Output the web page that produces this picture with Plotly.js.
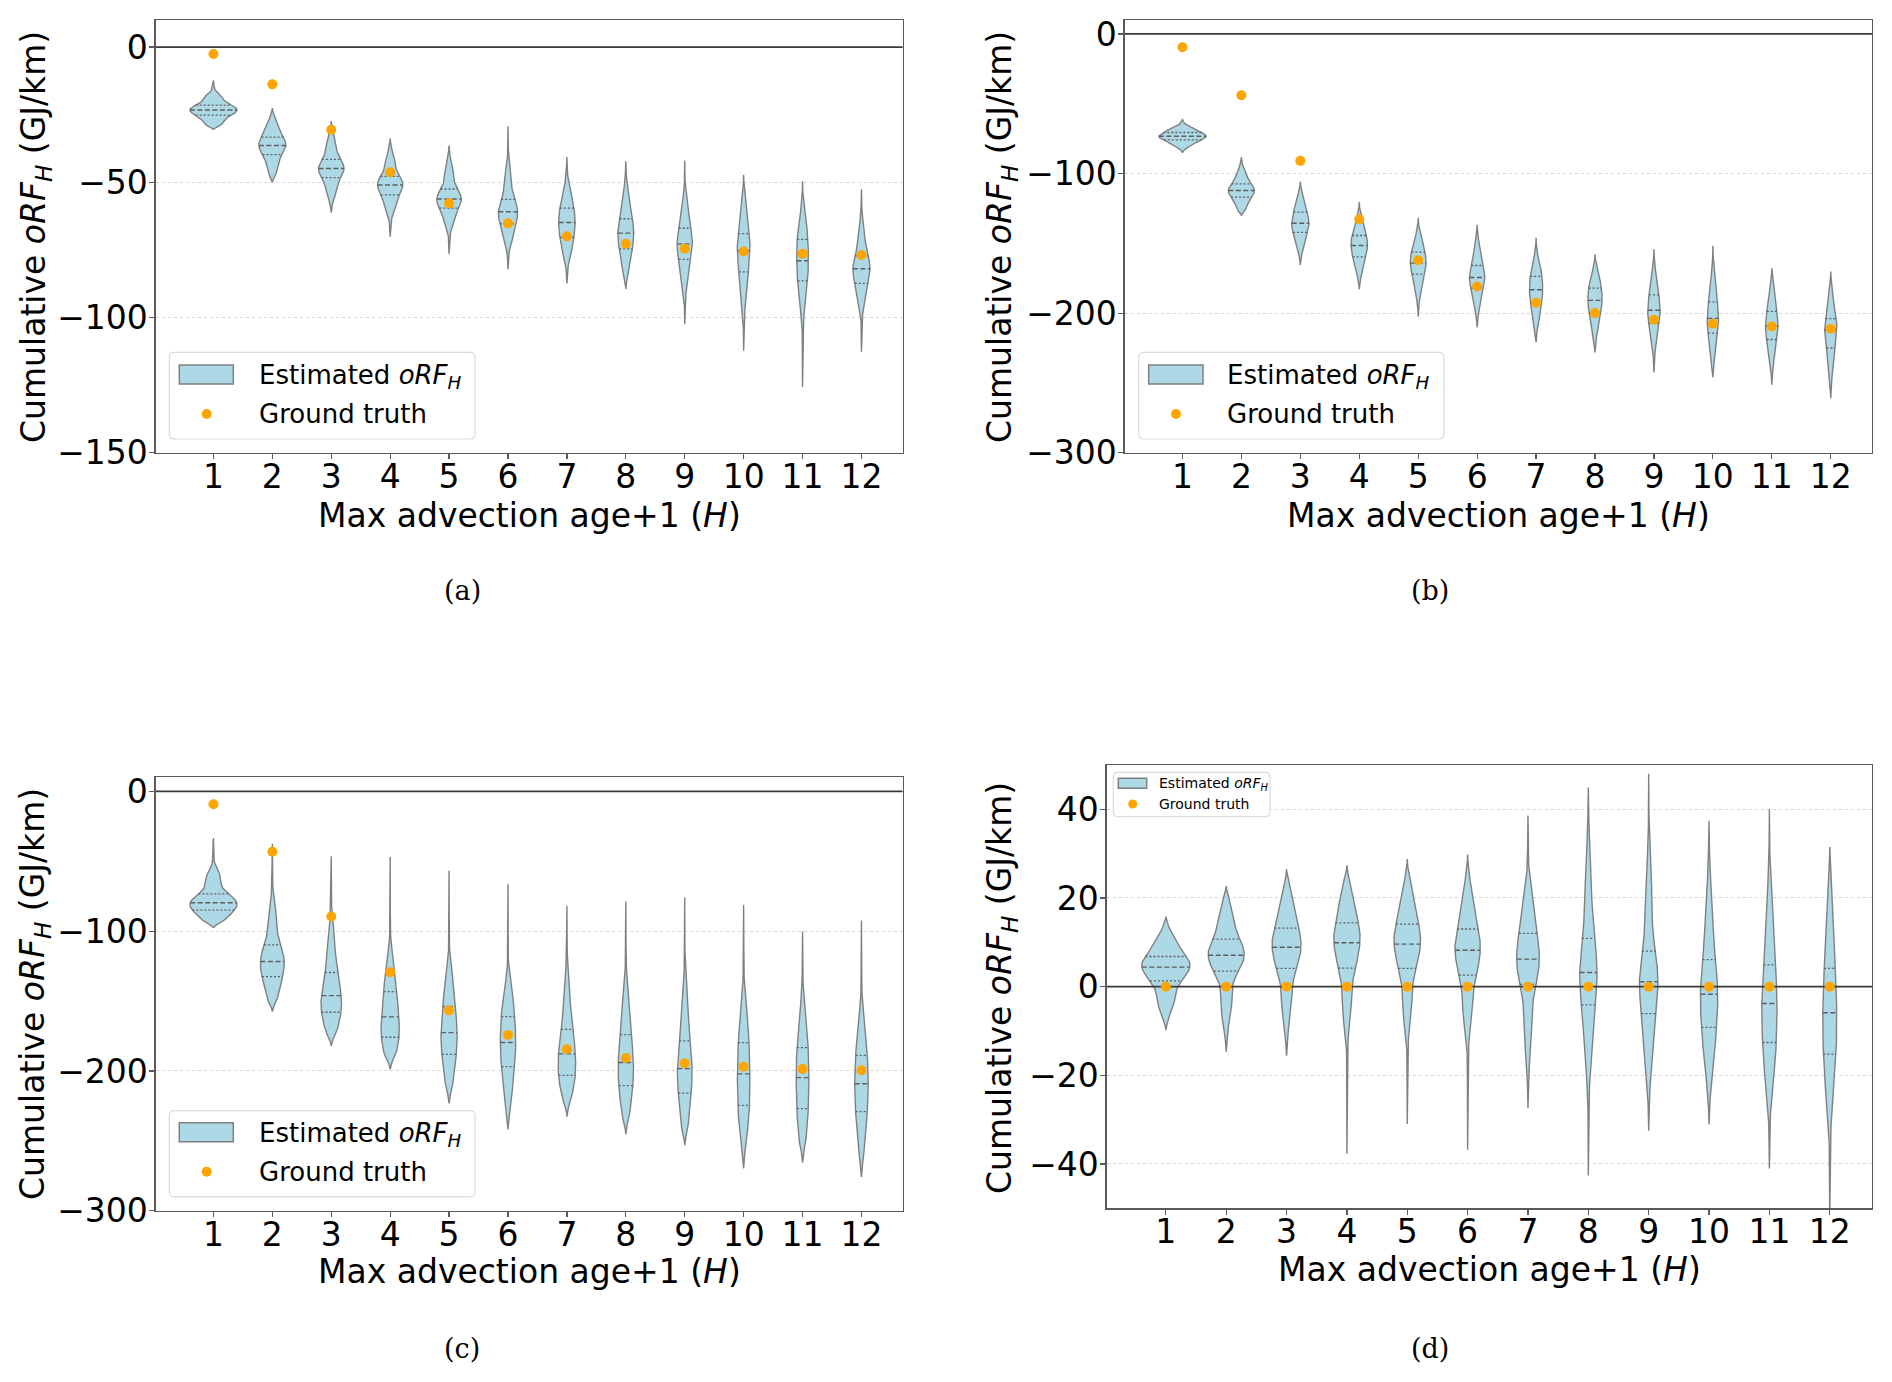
<!DOCTYPE html>
<html><head><meta charset="utf-8">
<script src="https://cdn.plot.ly/plotly-3.0.1.min.js"></script>
<style>html,body{margin:0;padding:0;background:#fff}</style>
</head><body><div id="chart" style="width:1892px;height:1382px"></div>
<script>
// ---------- data ----------
const H = [1,2,3,4,5,6,7,8,9,10,11,12];
const tickLabels = ['1','2','3','4','5','6','7','8','9','10','11','12'];

// panel (a)
const aHi     = [-12.3,-22.6,-27.4,-33.8,-36.4,-29.3,-40.7,-42.2,-42.0,-47.2,-49.6,-52.6];
const aBodyHi = [-17.3,-27.2,-33.3,-39.5,-43.2,-44.4,-51.9,-53.1,-56.8,-58.0,-63.0,-65.4];
const aQ3     = [-21.5,-33.3,-41.5,-47.8,-52.5,-56.3,-59.6,-63.5,-67.0,-69.0,-71.1,-77.2];
const aMed    = [-23.3,-36.4,-44.9,-51.0,-56.2,-60.9,-64.9,-68.8,-72.8,-75.3,-79.0,-82.0];
const aQ1     = [-25.2,-39.8,-48.3,-54.7,-59.6,-65.4,-70.4,-74.6,-78.5,-83.1,-86.5,-87.4];
const aBodyLo = [-29.0,-46.9,-55.6,-61.7,-66.7,-72.8,-77.8,-82.7,-88.9,-95.1,-97.5,-96.3];
const aLo     = [-30.5,-50.0,-61.2,-70.1,-76.5,-82.2,-87.4,-89.5,-102.5,-112.3,-125.7,-112.7];
const aTruth  = [-2.6,-13.8,-30.6,-46.3,-57.8,-65.2,-70.0,-72.7,-74.6,-75.6,-76.4,-76.9];

// panel (b)
const bHi     = [-60.9,-88.3,-105.7,-120.5,-131.7,-136.8,-146.1,-157.8,-154.2,-151.8,-167.8,-170.2];
const bBodyHi = [-66.3,-97.4,-116.5,-133.2,-145.1,-149.9,-161.8,-171.4,-171.4,-173.7,-183.3,-185.7];
const bQ3     = [-70.6,-107.4,-127.7,-144.4,-156.3,-165.9,-173.7,-182.1,-186.9,-191.9,-198.8,-204.0];
const bMed    = [-73.3,-112.2,-135.6,-151.6,-164.2,-174.5,-183.3,-190.9,-197.9,-203.8,-209.5,-212.0];
const bQ1     = [-75.9,-116.9,-142.2,-159.7,-172.1,-182.1,-192.8,-200.0,-207.2,-214.3,-218.9,-225.0];
const bBodyLo = [-80.7,-126.0,-154.7,-171.4,-188.1,-197.6,-207.2,-214.3,-223.9,-231.0,-235.8,-243.0];
const bLo     = [-85.0,-130.1,-165.4,-182.8,-202.4,-210.3,-220.8,-228.2,-242.5,-246.1,-251.3,-260.9];
const bTruth  = [-9.5,-43.9,-90.9,-132.7,-162.1,-180.9,-192.6,-200.0,-204.8,-207.6,-209.5,-211.2];

// panel (c)
const cHi     = [-33.4,-37.5,-46.5,-47.0,-56.8,-66.1,-81.9,-78.8,-75.9,-81.4,-100.2,-92.4];
const cBodyHi = [-56.1,-80.0,-96.7,-118.1,-127.7,-139.6,-132.5,-139.6,-142.0,-151.6,-156.3,-161.1];
const cQ3     = [-73.3,-109.8,-129.6,-143.2,-153.9,-161.1,-170.2,-174.0,-178.5,-179.7,-183.3,-188.8];
const cMed    = [-79.7,-121.7,-146.1,-161.3,-172.6,-179.7,-187.8,-194.0,-198.3,-202.1,-204.8,-209.1];
const cQ1     = [-85.0,-132.5,-158.0,-175.9,-188.1,-196.9,-203.1,-210.5,-215.8,-224.6,-227.0,-229.1];
const cBodyLo = [-93.1,-149.2,-173.0,-189.7,-211.2,-223.2,-218.4,-232.7,-242.2,-247.0,-251.8,-256.6];
const cLo     = [-97.6,-157.5,-182.1,-198.8,-223.2,-241.8,-232.7,-245.3,-253.0,-269.7,-265.6,-275.7];
const cTruth  = [-9.3,-43.2,-89.5,-129.4,-156.8,-174.2,-184.5,-190.7,-194.5,-196.9,-198.6,-199.5];

// panel (d)
const dHi     = [15.8,22.7,26.5,27.4,28.8,29.8,38.6,44.9,48.0,37.4,40.0,31.5];
const dBodyHi = [11.7,18.4,20.7,22.2,22.2,22.2,22.2,29.7,27.4,22.2,20.7,19.2];
const dQ3     = [6.8,10.7,13.2,14.4,14.1,13.0,12.0,10.9,8.0,6.1,4.9,4.1];
const dMed    = [4.4,7.1,8.9,9.9,9.6,8.2,6.2,3.2,1.1,-1.7,-3.8,-5.9];
const dQ1     = [1.3,3.5,4.1,4.2,4.1,2.6,0.5,-4.1,-6.1,-9.2,-12.6,-15.2];
const dBodyLo = [-5.6,-7.9,-7.9,-9.4,-9.4,-10.2,-15.4,-19.2,-19.2,-19.9,-22.9,-26.7];
const dLo     = [-9.8,-14.7,-15.6,-37.7,-31.0,-36.8,-27.4,-42.6,-32.5,-31.1,-41.0,-52.0];
const dTruth  = [0,0,0,0,0,0,0,0,0,0,0,0];

// ---------- drawing helpers ----------
const W = 1892, HT = 1382;
const PX = x => x / W;
const PY = y => 1 - y / HT;
const FILL = '#add8e6', EDGE = 'rgb(128,128,128)', QCOL = 'rgb(95,95,95)';
const ORANGE = '#FFA500';
const XRANGE = [0.02, 12.7];

function erf(x) {
  const s = x < 0 ? -1 : 1; x = Math.abs(x);
  const t = 1 / (1 + 0.3275911 * x);
  const y = 1 - (((((1.061405429 * t - 1.453152027) * t) + 1.421413741) * t - 0.284496736) * t + 0.254829592) * t * Math.exp(-x * x);
  return s * y;
}
const Phi = z => 0.5 * (1 + erf(z / Math.SQRT2));
const TAIL = 0.02;

function makeProfile(lo, bl, q1, md, q3, bh, hi) {
  const knots = [lo, bl, q1, md, q3, bh, hi];
  const mass = [TAIL, 0.25 - TAIL, 0.25, 0.25, 0.25 - TAIL, TAIL];
  const sig = 0.3 * (q3 - q1);
  const dens = y => {
    let f = 0;
    for (let i = 0; i < 6; i++) {
      const a = knots[i], b = knots[i + 1];
      if (b <= a) continue;
      f += mass[i] / (b - a) * (Phi((b - y) / sig) - Phi((a - y) / sig));
    }
    const w = Math.min(1, (y - lo) / sig, (hi - y) / sig);
    return f * Math.max(0, w);
  };
  const N = 220, ys = [], ds = [];
  for (let k = 0; k <= N; k++) { const y = lo + (hi - lo) * k / N; ys.push(y); ds.push(dens(y)); }
  return { ys, ds, dens };
}

function panelTraces(xa, ya, lo, bl, q1, md, q3, bh, hi, truth) {
  const traces = [];
  const profs = H.map((h, i) => makeProfile(lo[i], bl[i], q1[i], md[i], q3[i], bh[i], hi[i]));
  let maxD = 0;
  profs.forEach(p => p.ds.forEach(d => { if (d > maxD) maxD = d; }));
  const sc = 0.4 / maxD;
  const qx = [], qy = [], mx = [], my = [];
  profs.forEach((p, i) => {
    const pos = H[i];
    const xs = [], ys = [];
    p.ys.forEach((y, k) => { xs.push(pos + p.ds[k] * sc); ys.push(y); });
    for (let k = p.ys.length - 1; k >= 0; k--) { xs.push(pos - p.ds[k] * sc); ys.push(p.ys[k]); }
    traces.push({type:'scatter', mode:'lines', x:xs, y:ys, xaxis:xa, yaxis:ya, fill:'toself',
      fillcolor:FILL, line:{color:EDGE, width:1.4}, showlegend:false, hoverinfo:'skip'});
    [q1[i], q3[i]].forEach(q => { const w = p.dens(q) * sc; qx.push(pos - w, pos + w, null); qy.push(q, q, null); });
    const wm = p.dens(md[i]) * sc; mx.push(pos - wm, pos + wm, null); my.push(md[i], md[i], null);
  });
  traces.push({type:'scatter', mode:'lines', x:qx, y:qy, xaxis:xa, yaxis:ya,
    line:{color:QCOL, width:1.3, dash:'2px,2px'}, showlegend:false, hoverinfo:'skip'});
  traces.push({type:'scatter', mode:'lines', x:mx, y:my, xaxis:xa, yaxis:ya,
    line:{color:QCOL, width:1.4, dash:'5px,2.5px'}, showlegend:false, hoverinfo:'skip'});
  // horizontal reference line at zero
  traces.push({type:'scatter', mode:'lines', x:XRANGE, y:[0,0], xaxis:xa, yaxis:ya,
    line:{color:'#3a3a3a', width:1.7}, showlegend:false, hoverinfo:'skip'});
  traces.push({type:'scatter', mode:'markers', x:H, y:truth, xaxis:xa, yaxis:ya,
    marker:{color:ORANGE, size:10, line:{width:0}}, showlegend:false, cliponaxis:false});
  return traces;
}

const data = [].concat(
  panelTraces('x','y', aLo, aBodyLo, aQ1, aMed, aQ3, aBodyHi, aHi, aTruth),
  panelTraces('x2','y2', bLo, bBodyLo, bQ1, bMed, bQ3, bBodyHi, bHi, bTruth),
  panelTraces('x3','y3', cLo, cBodyLo, cQ1, cMed, cQ3, cBodyHi, cHi, cTruth),
  panelTraces('x4','y4', dLo, dBodyLo, dQ1, dMed, dQ3, dBodyHi, dHi, dTruth)
);

const FONT = 'DejaVu Sans, Liberation Sans, sans-serif';
const FRAME = '#5a5a5a';
function xAxis(x0, x1, anchor) {
  return {domain:[PX(x0), PX(x1)], anchor, range:XRANGE, tickmode:'array', tickvals:H, ticktext:tickLabels,
    showgrid:false, zeroline:false, showline:true, mirror:true, linecolor:FRAME, linewidth:1.3,
    ticks:'outside', ticklen:5, tickwidth:1.2, tickcolor:FRAME, ticklabelstandoff:-11,
    tickfont:{family:FONT, size:33, color:'#000'}, fixedrange:true};
}
function yAxis(y0, y1, anchor, range, dtick) {
  return {domain:[PY(y1), PY(y0)], anchor, range, dtick, tick0:0,
    showgrid:true, gridcolor:'#d6d6d6', gridwidth:1, griddash:'3px,3px',
    zeroline:false, showline:true, mirror:true, linecolor:FRAME, linewidth:1.3,
    ticks:'outside', ticklen:5, tickwidth:1.2, tickcolor:FRAME, ticklabelstandoff:-5,
    tickfont:{family:FONT, size:33, color:'#000'}, fixedrange:true};
}

const YT = 'Cumulative <i>oRF</i><sub><i>H</i></sub> (GJ/km)';
const XT = 'Max advection age+1 (<i>H</i>)';
const LEG1 = 'Estimated <i>oRF</i><sub><i>H</i></sub>';
const LEG2 = 'Ground truth';

const annotations = [];
const shapes = [];
function ann(text, x, y, size, opts) {
  annotations.push(Object.assign({text, x:PX(x), y:PY(y), xref:'paper', yref:'paper', showarrow:false,
    xanchor:'center', yanchor:'middle', font:{family:FONT, size, color:'#000'}}, opts || {}));
}
// axis titles
ann(YT, 35, 237, 33, {textangle:-90});
ann(YT, 1001, 237, 33, {textangle:-90});
ann(YT, 35, 994, 33, {textangle:-90});
ann(YT, 1001, 988, 33, {textangle:-90});
ann(XT, 529, 515, 33);
ann(XT, 1498, 515, 33);
ann(XT, 529, 1271, 33);
ann(XT, 1489, 1269, 33);
// captions
const SERIF = 'DejaVu Serif, Liberation Serif, serif';
const capFont = {family:SERIF, size:27, color:'#000'};
ann('(a)', 462, 590, 27, {font:capFont});
ann('(b)', 1430, 590, 27, {font:capFont});
ann('(c)', 462, 1348, 27, {font:capFont});
ann('(d)', 1430, 1348, 27, {font:capFont});

// legends (drawn per panel)
function rrPath(x0, y0, x1, y1, r) {
  const P = (x, y) => PX(x) + ',' + PY(y);
  return 'M' + P(x0 + r, y0) + ' L' + P(x1 - r, y0) + ' Q' + P(x1, y0) + ' ' + P(x1, y0 + r) +
    ' L' + P(x1, y1 - r) + ' Q' + P(x1, y1) + ' ' + P(x1 - r, y1) +
    ' L' + P(x0 + r, y1) + ' Q' + P(x0, y1) + ' ' + P(x0, y1 - r) +
    ' L' + P(x0, y0 + r) + ' Q' + P(x0, y0) + ' ' + P(x0 + r, y0) + ' Z';
}
const legends = [
  {box:[169.3,352.3,475,439], sw:[179.3,365,233.3,384], dot:[206.7,414,5], tx:256.7, t1:376, t2:414, fs:26},
  {box:[1138.7,352.3,1444,439], sw:[1148.7,365,1203,384], dot:[1176,414,5], tx:1225.3, t1:376, t2:414, fs:26},
  {box:[169.3,1110.7,475,1196.7], sw:[179.3,1122.7,233.3,1141.7], dot:[206.7,1171.7,5], tx:256.7, t1:1134, t2:1172, fs:26},
  {box:[1113.3,772.3,1270,816.7], sw:[1118.3,778.3,1146.7,788.3], dot:[1132.7,804,4.5], tx:1156.7, t1:784, t2:804, fs:14}
];
legends.forEach(L => {
  shapes.push({type:'path', xref:'paper', yref:'paper', path:rrPath(L.box[0], L.box[1], L.box[2], L.box[3], 5),
    fillcolor:'rgba(255,255,255,0.85)', line:{color:'#dcdcdc', width:1.2}, layer:'above'});
  shapes.push({type:'rect', xref:'paper', yref:'paper', x0:PX(L.sw[0]), x1:PX(L.sw[2]), y0:PY(L.sw[3]), y1:PY(L.sw[1]),
    fillcolor:FILL, line:{color:EDGE, width:1.5}, layer:'above'});
  shapes.push({type:'circle', xref:'paper', yref:'paper', x0:PX(L.dot[0] - L.dot[2]), x1:PX(L.dot[0] + L.dot[2]),
    y0:PY(L.dot[1] + L.dot[2]), y1:PY(L.dot[1] - L.dot[2]), fillcolor:ORANGE, line:{width:0}, layer:'above'});
  ann(LEG1, L.tx, L.t1, L.fs, {xanchor:'left'});
  ann(LEG2, L.tx, L.t2, L.fs, {xanchor:'left'});
});

const layout = {
  width:W, height:HT, margin:{l:0, r:0, t:0, b:0}, paper_bgcolor:'#fff', plot_bgcolor:'#fff',
  font:{family:FONT, color:'#000'}, showlegend:false,
  xaxis: xAxis(155.7, 902.7, 'y'),
  yaxis: yAxis(20, 452.7, 'x', [-150, 10], 50),
  xaxis2: xAxis(1124.7, 1872, 'y2'),
  yaxis2: yAxis(20, 452.7, 'x2', [-300, 10], 100),
  xaxis3: xAxis(155.7, 902.7, 'y3'),
  yaxis3: yAxis(777.3, 1210.8, 'x3', [-300, 10], 100),
  xaxis4: xAxis(1106.7, 1872, 'y4'),
  yaxis4: yAxis(765, 1208.3, 'x4', [-50, 50], 20),
  annotations, shapes
};

Plotly.newPlot('chart', data, layout, {staticPlot:true, displayModeBar:false});
</script></body></html>
